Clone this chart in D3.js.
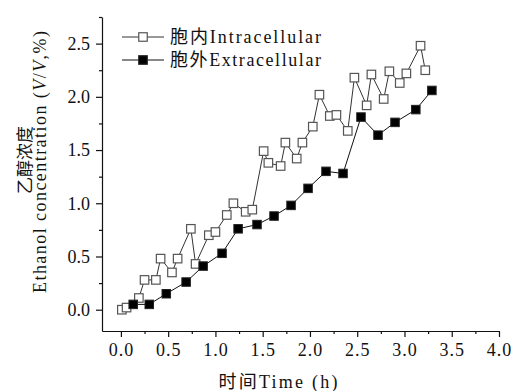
<!DOCTYPE html>
<html>
<head>
<meta charset="utf-8">
<script src="https://cdn.jsdelivr.net/npm/d3@7"></script>
<style>
  body { margin: 0; background: #fff; }
  text { font-family: "Liberation Serif", "Noto Sans CJK SC", serif; fill: #111; }
</style>
</head>
<body>
<div id="chart"></div>
<script>
// intracellular (open squares)
const intraTime = [0.01, 0.06, 0.19, 0.25, 0.37, 0.42, 0.54, 0.60, 0.74, 0.79, 0.93, 1.00,
  1.12, 1.19, 1.32, 1.39, 1.51, 1.56, 1.69, 1.74, 1.86, 1.92, 2.03, 2.10, 2.21, 2.28,
  2.40, 2.47, 2.60, 2.65, 2.78, 2.84, 2.95, 3.02, 3.17, 3.22];
const intraConc = [0.00, 0.02, 0.11, 0.28, 0.28, 0.48, 0.35, 0.48, 0.76, 0.43, 0.70, 0.73,
  0.89, 1.00, 0.92, 0.94, 1.49, 1.38, 1.35, 1.57, 1.42, 1.57, 1.72, 2.02, 1.82, 1.83,
  1.68, 2.18, 1.92, 2.21, 1.98, 2.24, 2.13, 2.22, 2.48, 2.25];

// extracellular (filled squares)
const extraTime = [0.13, 0.30, 0.48, 0.69, 0.87, 1.07, 1.24, 1.44, 1.62, 1.80, 1.98,
  2.17, 2.35, 2.54, 2.72, 2.90, 3.12, 3.29];
const extraConc = [0.05, 0.05, 0.15, 0.26, 0.41, 0.53, 0.76, 0.80, 0.88, 0.98, 1.14,
  1.30, 1.28, 1.81, 1.64, 1.76, 1.88, 2.06];

const xTicks = [0, 0.5, 1, 1.5, 2, 2.5, 3, 3.5, 4];
const yTicks = [0, 0.5, 1, 1.5, 2, 2.5];

const W = 513, H = 391;
const svg = d3.select("#chart").append("svg").attr("width", W).attr("height", H);

const x = d3.scaleLinear().domain([-0.2, 4.0]).range([102, 499]);
const y = d3.scaleLinear().domain([-0.2, 2.75]).range([331, 17]);

// axes
const xAxis = d3.axisBottom(x).tickValues(xTicks).tickFormat(d3.format(".1f"))
  .tickSizeInner(6).tickSizeOuter(0).tickPadding(6);
const yAxis = d3.axisLeft(y).tickValues(yTicks).tickFormat(d3.format(".1f"))
  .tickSizeInner(6).tickSizeOuter(0).tickPadding(6);

const gx = svg.append("g").attr("transform", "translate(0,331)").call(xAxis);
const gy = svg.append("g").attr("transform", "translate(102,0)").call(yAxis);

// minor ticks
const xMinor = d3.range(0.25, 4, 0.5);
const yMinor = d3.range(0.25, 2.8, 0.5);
svg.append("g").attr("transform", "translate(0,331)").call(
  d3.axisBottom(x).tickValues(xMinor).tickFormat("").tickSizeInner(3).tickSizeOuter(0))
  .select(".domain").remove();
svg.append("g").attr("transform", "translate(102,0)").call(
  d3.axisLeft(y).tickValues(yMinor).tickFormat("").tickSizeInner(3).tickSizeOuter(0))
  .select(".domain").remove();

svg.selectAll(".domain, .tick line").attr("stroke", "#111").attr("stroke-width", 1.2);
[gx, gy].forEach(g => g.selectAll(".tick text")
  .style("font-family", "'Liberation Serif', serif").style("font-size", "18px").attr("fill", "#111"));
gx.selectAll(".tick text").style("letter-spacing", "1px");

// lines
const intra = intraTime.map((t, i) => [t, intraConc[i]]);
const extra = extraTime.map((t, i) => [t, extraConc[i]]);
const line = d3.line().x(d => x(d[0])).y(d => y(d[1]));

svg.append("path").datum(intra).attr("d", line)
  .attr("fill", "none").attr("stroke", "#333").attr("stroke-width", 1);
svg.append("path").datum(extra).attr("d", line)
  .attr("fill", "none").attr("stroke", "#111").attr("stroke-width", 1);

const S = 8.5;
svg.append("g").selectAll("rect").data(intra).join("rect")
  .attr("x", d => x(d[0]) - S / 2).attr("y", d => y(d[1]) - S / 2)
  .attr("width", S).attr("height", S)
  .attr("fill", "#fff").attr("stroke", "#555").attr("stroke-width", 1.2);
svg.append("g").selectAll("rect").data(extra).join("rect")
  .attr("x", d => x(d[0]) - S / 2).attr("y", d => y(d[1]) - S / 2)
  .attr("width", S).attr("height", S)
  .attr("fill", "#000").attr("stroke", "#222").attr("stroke-width", 1);

// legend
const legend = [
  { label: "胞内Intracellular", fill: "#fff", stroke: "#555", line: "#333" },
  { label: "胞外Extracellular", fill: "#000", stroke: "#222", line: "#111" }
];
const lg = svg.append("g");
legend.forEach((d, i) => {
  const ly = 37 + i * 23;
  lg.append("line").attr("x1", 122).attr("x2", 164).attr("y1", ly).attr("y2", ly)
    .attr("stroke", d.line).attr("stroke-width", 1);
  lg.append("rect").attr("x", 143 - S / 2).attr("y", ly - S / 2).attr("width", S).attr("height", S)
    .attr("fill", d.fill).attr("stroke", d.stroke).attr("stroke-width", 1.2);
  lg.append("text").attr("x", 170).attr("y", ly + 6).style("font-size", "18px")
    .attr("textLength", 151).attr("lengthAdjust", "spacing").text(d.label);
});

// axis titles
svg.append("text").attr("x", 278).attr("y", 388).attr("text-anchor", "middle")
  .style("font-size", "18px").attr("textLength", 119).attr("lengthAdjust", "spacing")
  .text("时间Time (h)");

// y title: Chinese line
svg.append("text")
  .attr("transform", "translate(31,160) rotate(-90)")
  .attr("text-anchor", "middle")
  .style("font-family", "'Noto Sans CJK SC', sans-serif")
  .style("font-size", "17px")
  .text("乙醇浓度");

// y title: English line
const t2 = svg.append("text")
  .attr("transform", "translate(46,162) rotate(-90)")
  .attr("text-anchor", "middle")
  .style("font-size", "18px").attr("textLength", 262).attr("lengthAdjust", "spacing");
t2.append("tspan").text("Ethanol concentration (");
t2.append("tspan").style("font-style", "italic").text("V");
t2.append("tspan").text("/");
t2.append("tspan").style("font-style", "italic").text("V");
t2.append("tspan").text(",%)");
</script>
</body>
</html>
